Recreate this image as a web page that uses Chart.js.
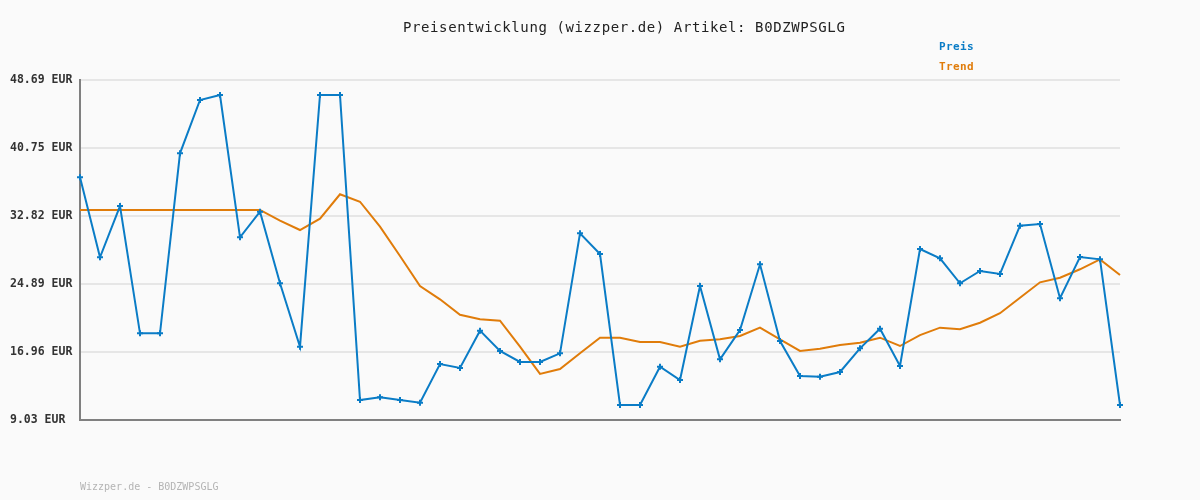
<!DOCTYPE html>
<html>
<head>
<meta charset="utf-8">
<script src="https://cdn.jsdelivr.net/npm/chart.js@4/dist/chart.umd.min.js"></script>
<style>
html,body{margin:0;padding:0;background:#fafafa;}
#wrap{width:1200px;height:500px;}
</style>
</head>
<body>
<div id="wrap"><canvas id="c" width="1200" height="500"></canvas></div>
<script>
const titleText = "Preisentwicklung (wizzper.de) Artikel: B0DZWPSGLG";
const footerText = "Wizzper.de - B0DZWPSGLG";
const seriesNames = ["Preis", "Trend"];
const tickValues = [9.03, 16.96, 24.89, 32.82, 40.75, 48.69];
const categories = Array.from({length: 53}, (_, i) => String(i + 1));
const price = [37.34,28.01,33.99,19.14,19.14,40.14,46.36,46.94,30.34,33.33,
  24.98,17.58,46.94,46.94,11.36,11.68,11.36,11.05,15.56,15.10,
  19.45,17.08,15.80,15.80,16.81,30.81,28.39,10.78,10.78,15.25,
  13.69,24.66,16.11,19.53,27.19,18.24,14.16,14.08,14.63,17.39,
  19.68,15.33,28.98,27.89,24.98,26.41,26.06,31.69,31.89,23.23,
  28.04,27.77,10.78];
const trend = [33.53,33.53,33.53,33.53,33.53,33.53,33.53,33.53,33.53,33.53,
  32.28,31.19,32.51,35.36,34.49,31.58,28.16,24.66,23.11,21.31,
  20.78,20.61,17.58,14.40,14.98,16.81,18.63,18.63,18.13,18.13,
  17.58,18.28,18.44,18.83,19.80,18.44,17.08,17.35,17.78,18.05,
  18.63,17.66,18.94,19.80,19.61,20.38,21.48,23.30,25.09,25.63,
  26.61,27.77,25.94];

const BLUE = "#0a7cc6";
const ORANGE = "#e07c0a";

const textPlugin = {
  id: 'texts',
  afterDraw(chart) {
    const ctx = chart.ctx;
    ctx.save();
    ctx.textBaseline = 'middle';
    ctx.textAlign = 'left';
    ctx.letterSpacing = '0.6px';
    ctx.fillStyle = '#222222';
    ctx.font = '14px "DejaVu Sans Mono"';
    ctx.fillText(titleText, 403, 28);
    ctx.letterSpacing = '0.4px';
    ctx.font = 'bold 11px "DejaVu Sans Mono"';
    ctx.fillStyle = BLUE;
    ctx.fillText(seriesNames[0], 939, 47);
    ctx.fillStyle = ORANGE;
    ctx.fillText(seriesNames[1], 939, 67);
    ctx.letterSpacing = '0px';
    ctx.font = '10px "DejaVu Sans Mono"';
    ctx.fillStyle = '#b4b4b4';
    ctx.fillText(footerText, 80, 487);
    ctx.restore();
  }
};

const bgPlugin = {
  id: 'bg',
  beforeDraw(chart) {
    const ctx = chart.ctx;
    ctx.save();
    ctx.fillStyle = '#fafafa';
    ctx.fillRect(0, 0, chart.width, chart.height);
    ctx.restore();
  }
};

new Chart(document.getElementById('c'), {
  type: 'line',
  data: {
    labels: categories,
    datasets: [
      {
        label: seriesNames[0],
        data: price,
        borderColor: BLUE,
        backgroundColor: BLUE,
        borderWidth: 2,
        pointStyle: 'cross',
        pointRadius: 3,
        pointBorderWidth: 2,
        pointBorderColor: BLUE,
        tension: 0,
        order: 1
      },
      {
        label: seriesNames[1],
        data: trend,
        borderColor: ORANGE,
        backgroundColor: ORANGE,
        borderWidth: 2,
        pointRadius: 0,
        tension: 0,
        order: 2
      }
    ]
  },
  options: {
    responsive: false,
    animation: false,
    events: [],
    layout: { padding: { left: 10, right: 80, top: 80, bottom: 0 } },
    plugins: {
      legend: { display: false },
      title: { display: false },
      tooltip: { enabled: false }
    },
    scales: {
      x: {
        type: 'category',
        offset: false,
        grid: { display: false, drawTicks: false },
        ticks: { display: false },
        border: { display: true, color: '#808080', width: 2 },
        afterFit(scale) { scale.height = 80; }
      },
      y: {
        min: tickValues[0],
        max: tickValues[tickValues.length - 1],
        afterBuildTicks(scale) { scale.ticks = tickValues.map(v => ({ value: v })); },
        grid: { color: '#e6e6e6', lineWidth: 2, drawTicks: false },
        border: { display: true, color: '#808080', width: 2 },
        ticks: {
          crossAlign: 'far',
          padding: 8,
          color: '#333333',
          font: { family: '"DejaVu Sans Mono"', size: 11.5, weight: 'bold' },
          callback: (v) => Number(v).toFixed(2) + ' EUR'
        },
        afterFit(scale) { scale.width = 70; }
      }
    }
  },
  plugins: [bgPlugin, textPlugin]
});
</script>
</body>
</html>
